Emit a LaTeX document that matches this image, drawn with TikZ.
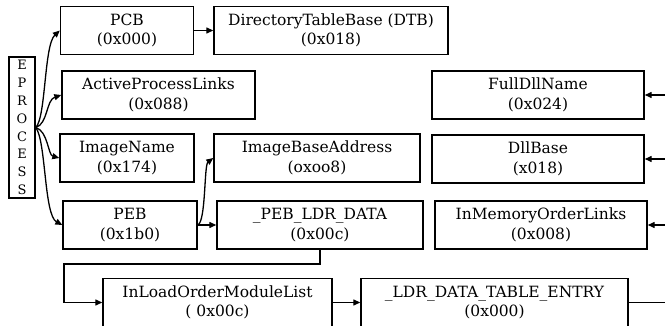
\documentclass[tikz,border=0pt]{standalone}
\usepackage{fontspec}
\setmainfont{DejaVu Serif}
\usetikzlibrary{arrows.meta}
\begin{document}
\begin{tikzpicture}[x=1pt,y=-1pt,
  box/.style={draw, line width=1.4pt, inner sep=0pt, align=center,
    font=\fontsize{15.5}{19.5}\selectfont, minimum height=48pt},
  arr/.style={-{Stealth[length=7pt,width=6pt,inset=0pt]}, line width=1.3pt},
  ln/.style={line width=1.3pt}]
\useasboundingbox (0,0) rectangle (665,326);

\node[box, minimum width=26pt, minimum height=141pt, font=\fontsize{13}{17.8}\selectfont] (ep) at (22,127.5) {E\\P\\R\\O\\C\\E\\S\\S};

\node[box, minimum width=133pt] (pcb) at (127,30.5) {PCB\\(0x000)};
\node[box, minimum width=234pt] (dtb) at (331,30.5) {DirectoryTableBase (DTB)\\(0x018)};
\node[box, minimum width=193pt] (apl) at (158.5,95) {ActiveProcessLinks\\(0x088)};
\node[box, minimum width=134pt] (imn) at (127,158) {ImageName\\(0x174)};
\node[box, minimum width=206pt] (iba) at (317,158) {ImageBaseAddress\\(oxoo8)};
\node[box, minimum width=134pt] (peb) at (130,225) {PEB\\(0x1b0)};
\node[box, minimum width=206pt] (pld) at (320,225) {\_PEB\_LDR\_DATA\\(0x00c)};
\node[box, minimum width=212pt] (fdn) at (538,95) {FullDllName\\(0x024)};
\node[box, minimum width=212pt] (dll) at (538,159) {DllBase\\(x018)};
\node[box, minimum width=212pt] (iml) at (541,225) {InMemoryOrderLinks\\(0x008)};
\node[box, minimum width=229pt] (ilo) at (217.5,302.5) {InLoadOrderModuleList\\( 0x00c)};
\node[box, minimum width=267pt] (ldr) at (494.5,302.5) {\_LDR\_DATA\_TABLE\_ENTRY\\(0x000)};

% EPROCESS fan-out
\draw[arr] (ep.east) .. controls (46,118) and (44,45) .. (pcb.west);
\draw[arr] (ep.east) .. controls (48,124) and (46,100) .. (apl.west);
\draw[arr] (ep.east) .. controls (48,131) and (48,155) .. (imn.west);
\draw[arr] (ep.east) .. controls (46,140) and (44,215) .. (peb.west);

\draw[arr] (pcb.east) -- (dtb.west);
\draw[arr] (peb.east) -- (pld.west);
\draw[arr] (peb.east) .. controls (206,222) and (204,165) .. (iba.west);

\coordinate (c1) at (320,264);
\coordinate (c2) at (64,264);
\draw[arr] (pld.south) -- (c1) -- (c2) -- (c2 |- ilo.west) -- (ilo.west);
\draw[arr] (ilo.east) -- (ldr.east -| ldr.west);

\coordinate (r0) at (665,302.5);
\coordinate (r1) at (665,95);
\coordinate (r2) at (665,159);
\coordinate (r3) at (665,225);
\draw[ln] (ldr.east) -- (r0);
\draw[arr] (r1) -- (fdn.east);
\draw[arr] (r2) -- (dll.east);
\draw[arr] (r3) -- (iml.east);
\end{tikzpicture}
\end{document}
